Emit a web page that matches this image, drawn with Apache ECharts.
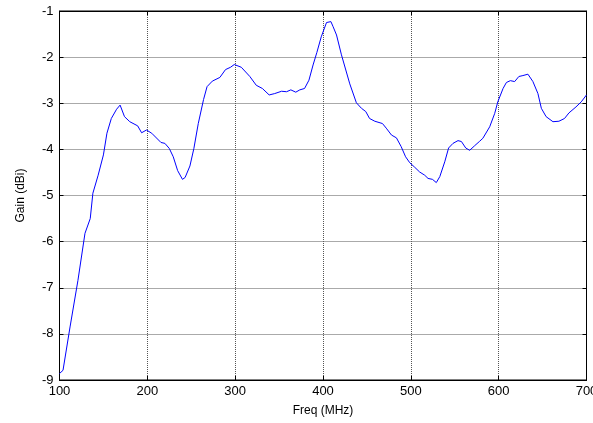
<!DOCTYPE html>
<html>
<head>
<meta charset="utf-8">
<script src="https://cdn.jsdelivr.net/npm/echarts@6/dist/echarts.min.js"></script>
<style>
html,body{margin:0;padding:0;background:#fff;}
#chart{width:593px;height:423px;}
</style>
</head>
<body>
<div id="chart"></div>
<script>
var freq = [100,104,112,121,129,135,138,144,150,154,159,165,169,174,180,189,193.5,199,205,215.5,220,225,229.5,234.5,240,243,248.5,253,258,264,268,274,282.6,289,294.7,299,307,316.7,324,331,338.7,345,352.8,358.5,363.4,369,373.6,379,384,388.7,393,398,404,409,411.5,415.4,421,430.5,438,443.8,448.7,453,459,467.7,472,478,483.6,489,494,498.8,504,510,515.8,519.6,524.6,529,533,538.6,543,548,553.7,557.6,562.5,567,572.7,578,582,589.8,595.5,599,605,608.8,613.3,618.2,623,627.6,633.3,639,644.7,648.6,654,661.8,668.6,675,680,688,694,700];
var gain = [-8.86,-8.79,-7.85,-6.84,-5.82,-5.50,-4.95,-4.56,-4.12,-3.65,-3.33,-3.13,-3.04,-3.29,-3.40,-3.49,-3.64,-3.58,-3.65,-3.85,-3.87,-3.98,-4.16,-4.46,-4.65,-4.61,-4.36,-3.98,-3.44,-2.92,-2.64,-2.52,-2.44,-2.27,-2.22,-2.16,-2.22,-2.42,-2.61,-2.68,-2.82,-2.79,-2.74,-2.75,-2.71,-2.76,-2.71,-2.68,-2.50,-2.17,-1.90,-1.56,-1.25,-1.23,-1.34,-1.52,-1.95,-2.58,-2.99,-3.11,-3.18,-3.33,-3.39,-3.44,-3.54,-3.69,-3.75,-3.94,-4.16,-4.29,-4.38,-4.49,-4.56,-4.63,-4.65,-4.72,-4.59,-4.27,-3.97,-3.87,-3.81,-3.83,-3.97,-4.02,-3.92,-3.83,-3.76,-3.51,-3.22,-2.97,-2.68,-2.55,-2.51,-2.53,-2.42,-2.40,-2.37,-2.53,-2.79,-3.11,-3.29,-3.40,-3.39,-3.33,-3.21,-3.08,-2.97,-2.82];
var xTicks = [100,200,300,400,500,600,700];
var yTicks = [-9,-8,-7,-6,-5,-4,-3,-2,-1];

var pts = freq.map(function(f,i){return [f, gain[i]];});
var font = 'Liberation Sans, Arial, sans-serif';
var gridLine = {show:true, lineStyle:{color:'#555', type:[1,1], width:1}};
var chart = echarts.init(document.getElementById('chart'), null, {renderer:'canvas'});
chart.setOption({
  animation:false,
  backgroundColor:'#fff',
  grid:{left:59.5, right:6.5, top:11, bottom:43, show:true, borderColor:'#000', borderWidth:1, containLabel:false, outerBoundsMode:'none'},
  xAxis:[{
    type:'value', min:xTicks[0], max:xTicks[xTicks.length-1], interval:100,
    name:'Freq (MHz)', nameLocation:'middle', nameGap:25,
    nameTextStyle:{color:'#000', fontSize:12, fontFamily:font},
    axisLine:{show:true, lineStyle:{color:'#000', width:1}},
    axisTick:{show:true, inside:true, length:4, lineStyle:{color:'#000'}},
    axisLabel:{color:'#000', fontSize:13, fontFamily:font, margin:5, showMinLabel:true, showMaxLabel:true, hideOverlap:false},
    splitLine:gridLine
  },{
    type:'value', position:'top', min:xTicks[0], max:xTicks[xTicks.length-1], interval:100,
    axisLine:{show:true, lineStyle:{color:'#000'}},
    axisTick:{show:true, inside:true, length:4, lineStyle:{color:'#000'}},
    axisLabel:{show:false}, splitLine:{show:false}
  }],
  yAxis:[{
    type:'value', min:yTicks[0], max:yTicks[yTicks.length-1], interval:1,
    name:'Gain (dBi)', nameLocation:'middle', nameGap:33, nameRotate:90,
    nameTextStyle:{color:'#000', fontSize:12, fontFamily:font},
    axisLine:{show:true, lineStyle:{color:'#000', width:1}},
    axisTick:{show:true, inside:true, length:4, lineStyle:{color:'#000'}},
    axisLabel:{color:'#000', fontSize:13, fontFamily:font, margin:6, showMinLabel:true, showMaxLabel:true},
    splitLine:gridLine
  },{
    type:'value', position:'right', min:yTicks[0], max:yTicks[yTicks.length-1], interval:1,
    axisLine:{show:true, lineStyle:{color:'#000'}},
    axisTick:{show:true, inside:true, length:4, lineStyle:{color:'#000'}},
    axisLabel:{show:false}, splitLine:{show:false}
  }],
  series:[{
    type:'line', data:pts, showSymbol:false, smooth:false,
    lineStyle:{color:'#0000ff', width:1}, xAxisIndex:0, yAxisIndex:0
  }]
});
</script>
</body>
</html>
